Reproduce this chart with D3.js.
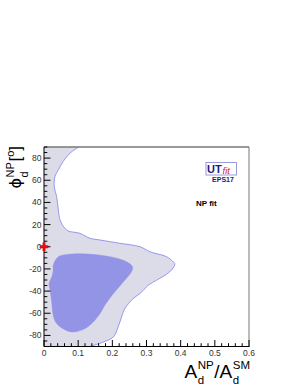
<!DOCTYPE html>
<html><head><meta charset="utf-8">
<script src="https://cdn.jsdelivr.net/npm/d3@7/dist/d3.min.js"></script>
<style>body{margin:0;background:#fff}svg{display:block}text{font-family:"Liberation Sans",Arial,sans-serif}</style>
</head><body>
<script>
// Data (A_d^NP/A_d^SM, phi_d^NP [deg])
const xTicks = [0, 0.1, 0.2, 0.3, 0.4, 0.5, 0.6];
const xTickLabels = ["0", "0.1", "0.2", "0.3", "0.4", "0.5", "0.6"];
const yTicks = [-80, -60, -40, -20, 0, 20, 40, 60, 80];
const yTickLabels = ["-80", "-60", "-40", "-20", "0", "20", "40", "60", "80"];
// 95% region boundary (from x=0 side, the hole edge)
const outerA   = [0.102,0.076,0.056,0.042,0.032,0.030,0.037,0.042,0.047,0.061,0.071,0.105,0.135,0.164,0.222,0.281,0.310,0.359,0.378,0.383,0.368,0.330,0.305,0.281,0.261,0.237,0.227,0.217,0.203,0.173,0.135];
const outerPhi = [90,84.5,76.9,69.4,63.3,54.3,45.2,33.2,24.2,16.7,14.2,12.1,7.6,6.1,3.1,0,-4.5,-9.0,-13.6,-15.7,-22.6,-30.1,-34.7,-42.2,-46.7,-55.7,-63.3,-72.4,-81.4,-86.0,-90];
// 68% region
const innerA   = [0.027,0.042,0.071,0.125,0.193,0.242,0.259,0.256,0.232,0.203,0.178,0.164,0.144,0.120,0.086,0.061,0.037,0.027,0.023,0.018,0.015,0.023,0.027];
const innerPhi = [-16.6,-9.0,-6.9,-6.6,-9.0,-13.6,-18.1,-22.6,-31.7,-42.2,-52.8,-60.3,-67.9,-73.8,-76.9,-74.8,-69.3,-61.8,-51.2,-39.2,-33.1,-27.1,-21.1];
const smPoint = [0, 0];

const W = 299, H = 387;
const L = 44, R = 249, T = 147, B = 346.5;
const svg = d3.select("body").append("svg").attr("width", W).attr("height", H);
const x = d3.scaleLinear().domain([0, 0.6]).range([L, R]);
const y = d3.scaleLinear().domain([-90, 90]).range([B, T]);

svg.append("clipPath").attr("id", "clip").append("rect")
  .attr("x", L).attr("y", T).attr("width", R - L).attr("height", B - T);
const plot = svg.append("g").attr("clip-path", "url(#clip)");

const outerPts = outerA.map((a, i) => [x(a), y(outerPhi[i])]);
const innerPts = innerA.map((a, i) => [x(a), y(innerPhi[i])]);
const curve = d3.line().curve(d3.curveCatmullRom.alpha(0.5));
const closed = d3.line().curve(d3.curveCatmullRomClosed.alpha(0.5));

plot.append("path")
  .attr("d", curve(outerPts) + `L${x(0) - 2},${y(-90) + 2}L${x(0) - 2},${y(90) - 2}Z`)
  .attr("fill", "#dcdce8").attr("stroke", "none");
plot.append("path").attr("d", curve(outerPts))
  .attr("fill", "none").attr("stroke", "#8c8cf0").attr("stroke-width", 0.9);
plot.append("path").attr("d", closed(innerPts))
  .attr("fill", "#9494e6").attr("stroke", "#9090e6").attr("stroke-width", 0.5);

// frame
svg.append("line").attr("x1", L).attr("x2", R).attr("y1", T).attr("y2", T)
  .attr("stroke", "#777").attr("stroke-width", 1.6);
svg.append("line").attr("x1", R).attr("x2", R).attr("y1", T).attr("y2", B)
  .attr("stroke", "#777").attr("stroke-width", 1);

// axes
const ax = svg.append("g");
ax.append("line").attr("x1", L).attr("x2", R + 0.5).attr("y1", B).attr("y2", B).attr("stroke", "#000").attr("stroke-width", 1);
ax.append("line").attr("x1", L).attr("x2", L).attr("y1", T).attr("y2", B).attr("stroke", "#000").attr("stroke-width", 1);
// x ticks
d3.range(0, 0.6001, 0.02).forEach(v => {
  const major = Math.abs(v * 10 - Math.round(v * 10)) < 1e-6;
  ax.append("line").attr("x1", x(v)).attr("x2", x(v)).attr("y1", B).attr("y2", B - (major ? 6.5 : 3.3))
    .attr("stroke", "#000").attr("stroke-width", 1);
});
xTicks.forEach((v, i) => {
  ax.append("text").attr("x", x(v)).attr("y", 355.5).attr("text-anchor", "middle")
    .attr("font-size", 8.5).attr("fill", "#333").text(xTickLabels[i]);
});
// y ticks
d3.range(-90, 90.001, 5).forEach(v => {
  const major = v % 20 === 0;
  ax.append("line").attr("x1", L).attr("x2", L + (major ? 6.5 : 3.3)).attr("y1", y(v)).attr("y2", y(v))
    .attr("stroke", "#000").attr("stroke-width", 1);
});
yTicks.forEach((v, i) => {
  ax.append("text").attr("x", 41.5).attr("y", y(v) + 3).attr("text-anchor", "end")
    .attr("font-size", 8.5).attr("fill", "#333").text(yTickLabels[i]);
});

// SM point
svg.append("path").attr("d", d3.symbol().type(d3.symbolCross).size(42)())
  .attr("transform", `translate(${x(smPoint[0])},${y(smPoint[1])})`).attr("fill", "#e01010");

// x label
const xl = svg.append("g");
function piece(g, txt, xx, yy, fs, fam) {
  const t = g.append("text").attr("x", xx).attr("y", yy).attr("font-size", fs).attr("fill", "#000").text(txt);
  if (fam) t.style("font-family", fam);
  return t.node().getComputedTextLength();
}
let cx = 0;
cx += piece(xl, "A", cx, 0, 19);
let w1 = piece(xl, "NP", cx + 0.5, -9, 11.5);
let w2 = piece(xl, "d", cx + 0.5, 6, 11.5);
cx += Math.max(w1, w2) + 1;
cx += piece(xl, "/", cx, 0, 19);
cx += piece(xl, "A", cx, 0, 19);
w1 = piece(xl, "SM", cx + 0.5, -9, 11.5);
w2 = piece(xl, "d", cx + 0.5, 6, 11.5);
cx += Math.max(w1, w2) + 0.5;
xl.attr("transform", `translate(${250 - cx},378)`);

// y label (rotated)
const yl = svg.append("g");
let cy = 0;
cy += piece(yl, "ϕ", cy, 0, 16, "'DejaVu Sans'");
w1 = piece(yl, "NP", cy + 0.5, -7.5, 11);
w2 = piece(yl, "d", cy + 0.5, 7, 11);
cy += Math.max(w1, w2) + 1;
cy += piece(yl, "[", cy, 0, 17);
cy += piece(yl, "o", cy, -7, 11);
cy += piece(yl, "]", cy, 0, 17);
yl.attr("transform", `translate(21,${146 + cy}) rotate(-90)`);

// logo
svg.append("rect").attr("x", 206).attr("y", 162.5).attr("width", 30.5).attr("height", 12.5)
  .attr("fill", "#fff").attr("stroke", "#9a9ad8").attr("stroke-width", 1);
svg.append("text").attr("x", 207).attr("y", 173).attr("font-size", 11).attr("font-weight", "bold")
  .attr("fill", "#1c1c80").text("UT");
svg.append("text").attr("x", 222.5).attr("y", 174).attr("font-size", 9.5).attr("font-style", "italic")
  .attr("fill", "#e02020").text("fit");
svg.append("text").attr("x", 223).attr("y", 181.5).attr("text-anchor", "middle").attr("font-size", 7)
  .attr("font-weight", "bold").attr("fill", "#1c1c80").text("EPS17");
svg.append("text").attr("x", 196).attr("y", 205.5).attr("font-size", 8).attr("font-weight", "bold")
  .attr("fill", "#000").text("NP fit");
</script>
</body></html>
